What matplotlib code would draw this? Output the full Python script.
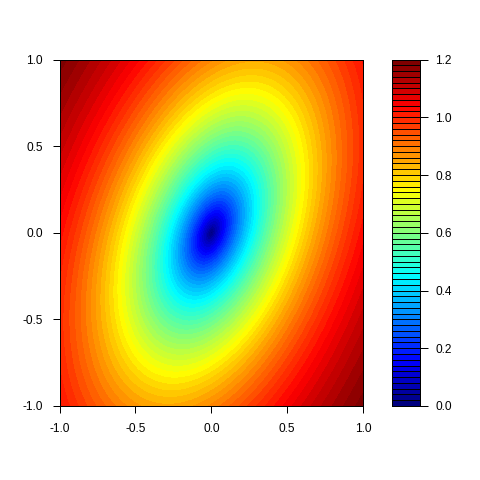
import numpy as np
import matplotlib
matplotlib.use("Agg")
import matplotlib.pyplot as plt
from matplotlib.colors import LinearSegmentedColormap, ListedColormap, BoundaryNorm

# grid and surface parameters
x_vals = np.linspace(-1.0, 1.0, 201)
y_vals = np.linspace(-1.0, 1.0, 201)
quad_xx = 1.823    # coefficient of x^2
quad_yy = 1.0      # coefficient of y^2
quad_xy = -1.053   # coefficient of x*y
shape_k = 0.95
sill = 1.4

levels = np.round(np.arange(0, 1.2001, 0.02), 2)
x_ticks = [-1.0, -0.5, 0.0, 0.5, 1.0]
y_ticks = [-1.0, -0.5, 0.0, 0.5, 1.0]
key_ticks = [0.0, 0.2, 0.4, 0.6, 0.8, 1.0, 1.2]

jet_cols = ["#00007F", "blue", "#007FFF", "cyan", "#7FFF7F",
            "yellow", "#FF7F00", "red", "#7F0000"]

plt.rcParams['font.family'] = ['Liberation Sans', 'DejaVu Sans']
plt.rcParams['axes.unicode_minus'] = False
plt.rcParams['font.size'] = 8.6

X, Y = np.meshgrid(x_vals, y_vals)
Q = quad_xx * X**2 + quad_yy * Y**2 + quad_xy * X * Y
Z = sill * (1 - np.exp(-Q ** (shape_k / 2)))

ramp = LinearSegmentedColormap.from_list("jet_r", jet_cols)
band_cols = ramp(np.linspace(0, 1, len(levels) - 1))
cmap = ListedColormap(band_cols)
norm = BoundaryNorm(levels, cmap.N)

fig = plt.figure(figsize=(4.8, 4.8), dpi=100)
ax = fig.add_axes([59.5 / 480, 74 / 480, 303.5 / 480, 346.5 / 480])
cs = ax.contourf(X, Y, Z, levels=levels, cmap=cmap, norm=norm, antialiased=False)
ax.set_xlim(-1, 1)
ax.set_ylim(-1, 1)
ax.set_xticks(x_ticks)
ax.set_yticks(y_ticks)
ax.set_xticklabels(["%.1f" % v for v in x_ticks])
ax.set_yticklabels(["%.1f" % v for v in y_ticks])
ax.tick_params(length=5, width=0.72, pad=7, colors='black')
for s in ax.spines.values():
    s.set_linewidth(0.72)

cax = fig.add_axes([392 / 480, 74 / 480, 28 / 480, 346.5 / 480])
cax.bar(0.5, np.diff(levels), bottom=levels[:-1], width=1.0,
        color=band_cols, edgecolor='black', linewidth=0.7, align='center')
cax.set_xlim(0, 1)
cax.set_ylim(levels[0], levels[-1])
cax.set_xticks([])
cax.yaxis.tick_right()
cax.set_yticks(key_ticks)
cax.set_yticklabels(["%.1f" % v for v in key_ticks])
cax.tick_params(length=6, width=0.72, pad=5, colors='black')
for s in cax.spines.values():
    s.set_linewidth(0.72)

fig.savefig("out.png", dpi=100)
